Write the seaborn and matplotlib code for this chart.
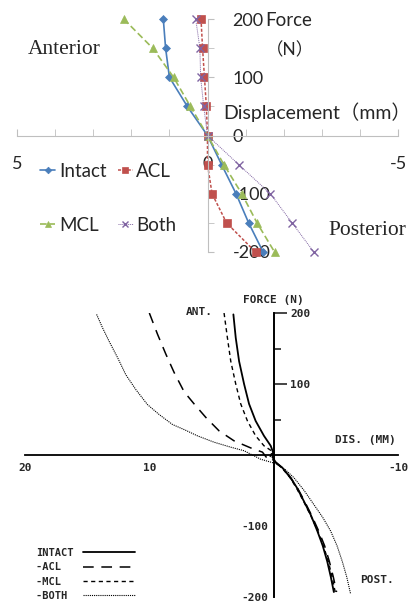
import matplotlib
matplotlib.use('Agg')
import matplotlib.pyplot as plt
import seaborn as sns
from matplotlib.ticker import MultipleLocator, FixedLocator, FuncFormatter

sns.set_style('white')
plt.rcParams['font.family'] = ['Lato', 'Noto Sans CJK JP', 'DejaVu Sans']

# ---- top chart: measured values (Excel style) ----
force_levels = [200, 150, 100, 50, 0, -50, -100, -150, -200]
intact_disp = [1.16, 1.10, 1.00, 0.53, 0, -0.37, -0.75, -1.08, -1.46]
acl_disp = [0.17, 0.13, 0.08, 0.03, 0, 0.00, -0.12, -0.50, -1.26]
mcl_disp = [2.20, 1.44, 0.89, 0.45, 0, -0.43, -0.90, -1.30, -1.76]
both_disp = [0.31, 0.20, 0.18, 0.10, 0, -0.82, -1.65, -2.22, -2.79]

# ---- bottom chart: traced curves (anterior then posterior) ----
b_intact_x = [3.24, 3.05, 2.78, 2.38, 1.98, 1.45, 0.78, 0.24, 0.05,
              0.10, -0.16, -0.70, -1.37, -1.90, -2.43, -3.00, -3.51, -3.95, -4.31, -4.60, -4.84]
b_intact_y = [198, 165, 132, 100, 72, 48, 27, 13, 4,
              -3, -10, -18, -32, -47, -65, -85, -107, -128, -150, -172, -193]
b_acl_x = [10.0, 9.34, 8.67, 8.00, 7.20, 6.40, 5.46, 4.39, 3.19, 1.85, 0.90,
           0.60, -0.10, -0.70, -1.30, -1.90, -2.45, -3.05, -3.62, -4.10, -4.48, -4.80, -5.06]
b_acl_y = [200, 170, 142, 116, 89, 72, 53, 34, 20, 10, 4,
           -3, -10, -18, -31, -46, -64, -85, -107, -128, -150, -172, -193]
b_mcl_x = [3.99, 3.72, 3.45, 3.05, 2.65, 2.11, 1.45, 0.78, 0.10,
           0.30, -0.12, -0.70, -1.32, -1.85, -2.40, -3.00, -3.55, -4.00, -4.40, -4.70, -4.95]
b_mcl_y = [200, 165, 132, 100, 72, 48, 27, 13, 5,
           -3, -10, -19, -32, -47, -65, -86, -107, -128, -150, -172, -193]
b_both_x = [14.24, 13.76, 13.23, 12.55, 11.89, 11.08, 10.15, 9.21, 8.14, 7.10, 6.13, 4.79, 3.45, 2.38,
            1.04, -0.16, -0.90, -1.63, -2.45, -3.24, -3.95, -4.58, -5.10, -5.52, -5.88, -6.18]
b_both_y = [198, 179, 160, 137, 113, 92, 71, 57, 43, 35, 27, 18, 11, 6,
            -6, -12, -20, -32, -50, -70, -88, -107, -128, -150, -172, -195]

W, H = 411, 604
fig = plt.figure(figsize=(W / 100, H / 100), dpi=100)


def fx(px):
    return px / W


def fy(py):
    return 1 - py / H


# ================= TOP =================
GRAY = '#BFBFBF'
ax = fig.add_axes([fx(17), fy(252), fx(398) - fx(17), fy(19) - fy(252)])
ax.set_facecolor('none')

series = [
    ('Intact', intact_disp, '#4A7EBB', '-', 'D', 4.5, 1.2),
    ('ACL', acl_disp, '#C0504D', (0, (2, 1.2)), 's', 5.5, 1.1),
    ('MCL', mcl_disp, '#9BBB59', (0, (4, 2)), '^', 6, 1.2),
    ('Both', both_disp, '#8064A2', (0, (1, 1)), 'x', 5.5, 0.7),
]
for name, d, c, ls, m, ms, lw in series:
    sns.lineplot(x=d, y=force_levels, sort=False, estimator=None, ax=ax,
                 color=c, linestyle=ls, marker=m, markersize=ms, linewidth=lw,
                 markeredgecolor=c, markeredgewidth=1 if m == 'x' else 0.5,
                 clip_on=False, label=name)

ax.set_xlim(5, -5)
ax.set_ylim(-200, 200)
for s in ['left', 'top']:
    ax.spines[s].set_visible(False)
ax.spines['right'].set_position(('data', 0))
ax.spines['bottom'].set_position(('data', 0))
for s in ['right', 'bottom']:
    ax.spines[s].set_color(GRAY)
    ax.spines[s].set_linewidth(0.8)
ax.yaxis.set_ticks_position('right')
ax.xaxis.set_ticks_position('bottom')
ax.xaxis.set_major_locator(MultipleLocator(5))
ax.xaxis.set_minor_locator(MultipleLocator(1))
ax.yaxis.set_major_locator(MultipleLocator(100))
ax.yaxis.set_minor_locator(MultipleLocator(50))
ax.xaxis.set_major_formatter(FuncFormatter(lambda v, p: f'{v:g}'))
ax.yaxis.set_major_formatter(FuncFormatter(lambda v, p: f'{v:g}'))
ax.tick_params(axis='x', which='both', direction='in', length=5, color=GRAY,
               labelsize=13, pad=15)
ax.tick_params(axis='y', which='both', direction='out', length=4, color=GRAY,
               labelsize=13, pad=14, labelright=True, labelleft=False)
ax.set_xlabel('')
ax.set_ylabel('')

h, l = ax.get_legend_handles_labels()
order = [0, 2, 1, 3]  # column-major fill -> rows: Intact ACL / MCL Both
ax.legend([h[i] for i in order], [l[i] for i in order], ncol=2, loc='upper left',
          bbox_to_anchor=(fx(40), fy(163)), bbox_transform=fig.transFigure,
          frameon=False, fontsize=13.5, handlelength=0.8, handletextpad=0.2,
          columnspacing=0.6, labelspacing=1.95, borderpad=0, borderaxespad=0,
          markerscale=0.75)

fig.text(fx(265), fy(21), 'Force', fontsize=13.5, va='center', ha='left')
fig.text(fx(290), fy(50), '（N）', fontsize=12.5, va='center', ha='center')
fig.text(fx(223), fy(112), 'Displacement（mm）', fontsize=14, va='center', ha='left')
fig.text(fx(28), fy(50), 'Anterior', fontsize=15.5, va='center', ha='left',
         family='Liberation Serif')
fig.text(fx(328), fy(230), 'Posterior', fontsize=15.5, va='center', ha='left',
         family='Liberation Serif')

# ================= BOTTOM =================
MONO = 'DejaVu Sans Mono'
bx = fig.add_axes([fx(25), fy(597), fx(398) - fx(25), fy(313) - fy(597)])
bx.set_facecolor('none')

curves = [
    ('INTACT', b_intact_x, b_intact_y, '-', 1.3),
    ('-ACL  ', b_acl_x, b_acl_y, (0, (7, 5)), 1.1),
    ('-MCL  ', b_mcl_x, b_mcl_y, (0, (3, 2.5)), 1.0),
    ('-BOTH ', b_both_x, b_both_y, (0, (1, 0.9)), 0.8),
]
for name, xs, ys, ls, lw in curves:
    sns.lineplot(x=xs, y=ys, sort=False, estimator=None, ax=bx, color='black',
                 linestyle=ls, linewidth=lw, label=name)

bx.set_xlim(20, -10)
bx.set_ylim(-200, 200)
for s in ['right', 'top']:
    bx.spines[s].set_visible(False)
bx.spines['left'].set_position(('data', 0))
bx.spines['bottom'].set_position(('data', 0))
for s in ['left', 'bottom']:
    bx.spines[s].set_color('black')
    bx.spines[s].set_linewidth(1.3)
bx.xaxis.set_major_locator(FixedLocator([20, 10, -10]))
bx.xaxis.set_minor_locator(FixedLocator([15, 5, 0, -5]))
bx.xaxis.set_major_formatter(FuncFormatter(lambda v, p: f'{v:g}'))
bx.tick_params(axis='x', which='both', direction='in', length=5, width=1.2,
               labelsize=8, pad=6)
bx.yaxis.set_major_locator(FixedLocator([-200, -100]))
bx.yaxis.set_minor_locator(FixedLocator([-150, -50]))
bx.yaxis.set_major_formatter(FuncFormatter(lambda v, p: f'{v:g}'))
bx.tick_params(axis='y', which='major', direction='in', length=7, width=1.2,
               labelsize=8, pad=4)
bx.tick_params(axis='y', which='minor', direction='in', length=5, width=1.2)
for lab in bx.get_xticklabels() + bx.get_yticklabels():
    lab.set_family(MONO)
    lab.set_fontweight('bold')
bx.set_xlabel('')
bx.set_ylabel('')

zero_frac = (20 - 0) / 30
sec = bx.secondary_yaxis(zero_frac)
sec.yaxis.set_major_locator(FixedLocator([100, 200]))
sec.yaxis.set_minor_locator(FixedLocator([50, 150]))
sec.yaxis.set_major_formatter(FuncFormatter(lambda v, p: f'{v:g}'))
sec.tick_params(axis='y', which='major', direction='out', length=9, width=1.2,
                labelsize=8, pad=3)
sec.tick_params(axis='y', which='minor', direction='out', length=5, width=1.2)
sec.spines['right'].set_linewidth(1.3)
for lab in sec.get_yticklabels():
    lab.set_family(MONO)
    lab.set_fontweight('bold')

h, l = bx.get_legend_handles_labels()
bx.legend(h, l, loc='upper left', bbox_to_anchor=(fx(36), fy(548)),
          bbox_transform=fig.transFigure, frameon=False, markerfirst=False,
          prop={'family': MONO, 'weight': 'bold', 'size': 7.5},
          handlelength=5.0, handletextpad=0.9, labelspacing=0.42,
          borderpad=0, borderaxespad=0)

kw = dict(family=MONO, fontweight='bold', fontsize=8, va='center', ha='left')
fig.text(fx(243), fy(300), 'FORCE (N)', **kw)
fig.text(fx(186), fy(312), 'ANT.', **kw)
fig.text(fx(335), fy(440), 'DIS. (MM)', **kw)
fig.text(fx(360), fy(580), 'POST.', **kw)

fig.savefig('out.png', dpi=100)
